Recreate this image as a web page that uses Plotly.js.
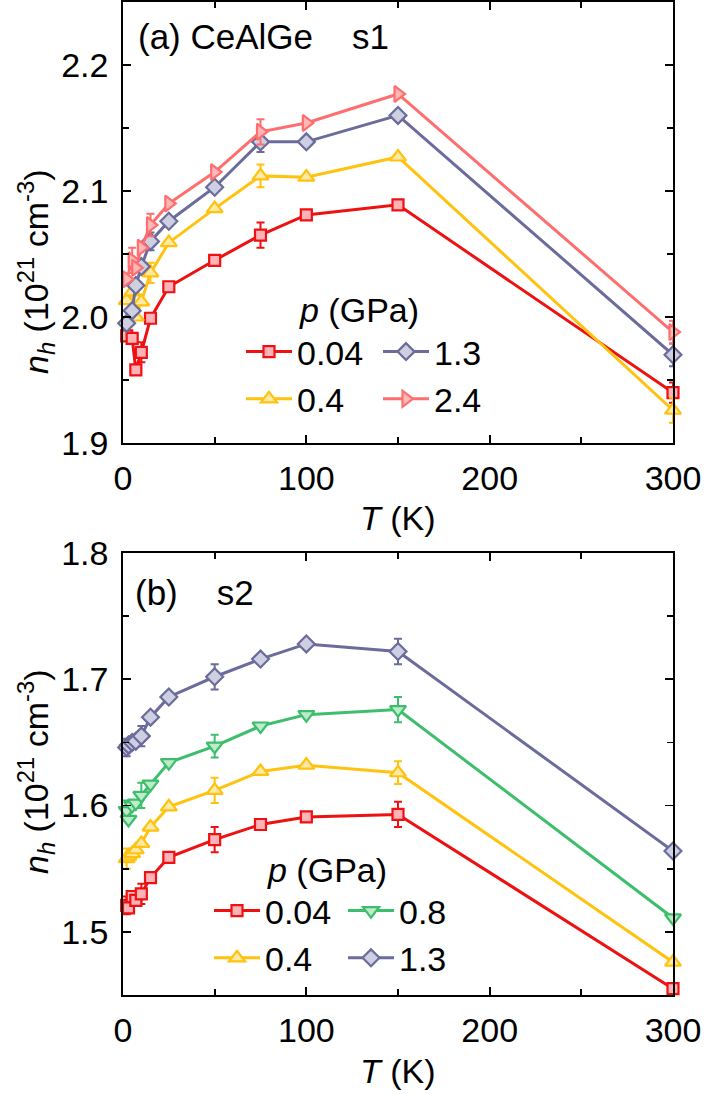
<!DOCTYPE html>
<html><head><meta charset="utf-8">
<script src="https://cdn.plot.ly/plotly-3.0.1.min.js"></script>
<style>body{margin:0;background:#fff}#chart{width:705px;height:1094px}</style>
</head><body><div id="chart"></div>
<script>
// ---------- Panel (a): CeAlGe s1 ----------
const T_a = [2, 5, 7, 10, 15, 25, 50, 75, 100, 150, 300];
const a_p004 = [1.985, 1.983, 1.958, 1.972, 1.999, 2.024, 2.045, 2.065, 2.081, 2.089, 1.940];
const a_p004_err = [0, 0, 0, 0.008, 0, 0, 0, 0.01, 0, 0, 0.008];
const a_p04 = [2.013, 2.020, 2.000, 2.012, 2.035, 2.059, 2.086, 2.112, 2.111, 2.127, 1.926];
const a_p04_err = [0, 0, 0, 0, 0.008, 0, 0, 0.009, 0, 0, 0.01];
const a_p13 = [1.995, 2.005, 2.025, 2.040, 2.060, 2.076, 2.103, 2.139, 2.139, 2.160, 1.970];
const a_p13_err = [0, 0, 0, 0, 0.007, 0, 0, 0.008, 0, 0, 0.009];
const a_p24 = [2.030, 2.045, 2.039, 2.055, 2.073, 2.090, 2.115, 2.147, 2.154, 2.177, 1.988];
const a_p24_err = [0, 0.01, 0, 0, 0.009, 0, 0, 0.01, 0, 0, 0.009];

// ---------- Panel (b): s2 ----------
const T_b = [2, 3, 5, 7, 10, 15, 25, 50, 75, 100, 150, 300];
const b_p004 = [1.521, 1.519, 1.528, 1.525, 1.530, 1.543, 1.559, 1.573, 1.585, 1.591, 1.593, 1.455];
const b_p004_err = [0.007, 0, 0, 0, 0.008, 0, 0, 0.01, 0, 0, 0.01, 0];
const b_p04 = [1.558, 1.560, 1.562, 1.565, 1.570, 1.583, 1.599, 1.612, 1.627, 1.632, 1.626, 1.476];
const b_p04_err = [0.008, 0, 0, 0, 0, 0, 0, 0.01, 0, 0, 0.009, 0];
const b_p08 = [1.596, 1.589, 1.600, 1.602, 1.608, 1.617, 1.634, 1.647, 1.663, 1.672, 1.676, 1.511];
const b_p08_err = [0.008, 0, 0, 0, 0.01, 0, 0, 0.009, 0, 0, 0.01, 0];
const b_p13 = [1.646, 1.648, 1.650, 1.651, 1.655, 1.670, 1.686, 1.702, 1.716, 1.728, 1.722, 1.564];
const b_p13_err = [0.007, 0, 0, 0, 0.008, 0, 0, 0.01, 0, 0, 0.01, 0];

const seriesLabels = ['0.04', '0.4', '0.8', '1.3', '2.4'];

const ST = {
  '0.04': {line: '#EE1111', fill: '#FFB3B8', sym: 'square', size: 11},
  '0.4':  {line: '#FFC20E', fill: '#FFE9A6', sym: 'triangle-up', size: 14},
  '0.8':  {line: '#3DBE6C', fill: '#BDEBCB', sym: 'triangle-down', size: 14},
  '1.3':  {line: '#6B6B9C', fill: '#CFCFE2', sym: 'diamond', size: 13},
  '2.4':  {line: '#FF6E6E', fill: '#FFB8B8', sym: 'triangle-right', size: 14}
};

function tr(x, y, err, label, xa, ya, leg) {
  const s = ST[label];
  return {
    x: x, y: y, xaxis: xa, yaxis: ya, type: 'scatter', mode: 'lines+markers',
    name: label, legend: leg, cliponaxis: false,
    line: {color: s.line, width: 3},
    marker: {symbol: s.sym, size: s.size, color: s.fill, line: {color: s.line, width: 2.2}},
    error_y: {type: 'data', array: err, visible: true, color: s.line, thickness: 2, width: 4}
  };
}

const data = [
  tr(T_a, a_p004, a_p004_err, '0.04', 'x', 'y', 'legend'),
  tr(T_a, a_p04, a_p04_err, '0.4', 'x', 'y', 'legend'),
  tr(T_a, a_p13, a_p13_err, '1.3', 'x', 'y', 'legend2'),
  tr(T_a, a_p24, a_p24_err, '2.4', 'x', 'y', 'legend2'),
  tr(T_b, b_p004, b_p004_err, '0.04', 'x2', 'y2', 'legend3'),
  tr(T_b, b_p04, b_p04_err, '0.4', 'x2', 'y2', 'legend3'),
  tr(T_b, b_p08, b_p08_err, '0.8', 'x2', 'y2', 'legend4'),
  tr(T_b, b_p13, b_p13_err, '1.3', 'x2', 'y2', 'legend4')
];

const W = 705, H = 1094;
const FONT = 'Liberation Sans, Arial, sans-serif';
const px = v => v / W;
const py = v => 1 - v / H;

function xax(anchor) {
  return {
    anchor: anchor, domain: [px(123), px(673)], range: [0, 300],
    showline: true, linecolor: '#000', linewidth: 1.8, mirror: 'ticks',
    ticks: 'inside', ticklen: 8, tickwidth: 1.8, tickcolor: '#000', dtick: 100, tick0: 0,
    minor: {ticks: 'inside', dtick: 50, ticklen: 6, tickwidth: 1.8, tickcolor: '#000'},
    showgrid: false, zeroline: false, ticklabelstandoff: 4,
    tickfont: {family: FONT, size: 34, color: '#000'}
  };
}
function yax(anchor, dom, rng) {
  return {
    anchor: anchor, domain: dom, range: rng,
    showline: true, linecolor: '#000', linewidth: 1.8, mirror: 'ticks',
    ticks: 'inside', ticklen: 8, tickwidth: 1.8, tickcolor: '#000', dtick: 0.1, tick0: 0,
    minor: {ticks: 'inside', dtick: 0.05, ticklen: 6, tickwidth: 1.8, tickcolor: '#000'},
    showgrid: false, zeroline: false, tickformat: '.1f', ticklabelstandoff: 6,
    tickfont: {family: FONT, size: 34, color: '#000'}
  };
}

function leg(xLeft, yTop) {
  return {
    x: px(xLeft), y: py(yTop), xanchor: 'left', yanchor: 'top', orientation: 'v',
    bgcolor: 'rgba(0,0,0,0)', borderwidth: 0, itemwidth: 46,
    font: {family: FONT, size: 34, color: '#000'}, tracegroupgap: 0
  };
}

const ann = (text, x, y, opts) => Object.assign({
  text: text, xref: 'paper', yref: 'paper', x: px(x), y: py(y),
  showarrow: false, xanchor: 'left', yanchor: 'middle',
  font: {family: FONT, size: 34, color: '#000'}
}, opts || {});

const yTitle = '<i>n</i><sub><i>h</i></sub> (10<sup>21</sup> cm<sup>-3</sup>)';

const layout = {
  width: W, height: H, margin: {l: 0, r: 0, t: 0, b: 0},
  paper_bgcolor: '#fff', plot_bgcolor: 'rgba(0,0,0,0)',
  showlegend: true,
  font: {family: FONT, size: 34, color: '#000'},
  xaxis: xax('y'),
  yaxis: yax('x', [py(443), py(2)], [1.9, 2.25]),
  xaxis2: xax('y2'),
  yaxis2: yax('x2', [py(995), py(553)], [1.45, 1.8]),
  legend: leg(241, 323),
  legend2: leg(378, 323),
  legend3: leg(209, 882),
  legend4: leg(343, 882),
  annotations: [
    ann('(a) CeAlGe\u00A0\u00A0\u00A0\u00A0s1', 136, 36, {font: {family: FONT, size: 35, color: '#000'}}),
    ann('(b)\u00A0\u00A0\u00A0\u00A0s2', 133, 592, {font: {family: FONT, size: 35, color: '#000'}}),
    ann('<i>p</i> (GPa)', 297, 310),
    ann('<i>p</i> (GPa)', 265, 870),
    ann('<i>T</i> (K)', 398, 518, {xanchor: 'center'}),
    ann('<i>T</i> (K)', 398, 1071, {xanchor: 'center'}),
    ann(yTitle, 36, 272, {xanchor: 'center', textangle: -90}),
    ann(yTitle, 36, 772, {xanchor: 'center', textangle: -90})
  ]
};

Plotly.newPlot('chart', data, layout, {staticPlot: true, displayModeBar: false});
</script>
</body></html>
